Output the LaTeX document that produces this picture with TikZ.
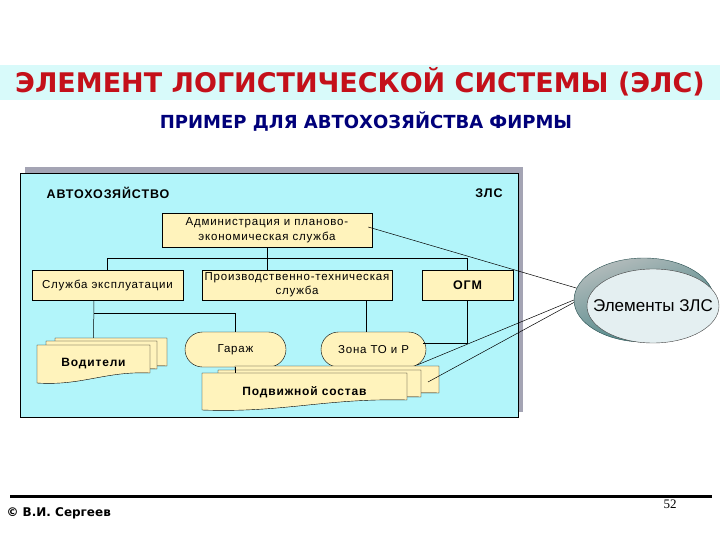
\documentclass[tikz,border=0pt]{standalone}
\usepackage{fontspec}
\setmainfont{Liberation Sans}
\newfontfamily\headfont{DejaVu Sans}
\newfontfamily\boxfont[LetterSpace=7]{Liberation Sans}
\newfontfamily\pagefont{Liberation Serif}
\usetikzlibrary{shapes.misc, shapes.geometric}
\definecolor{bandcyan}{HTML}{D8FAFA}
\definecolor{zlscyan}{HTML}{B2F5FA}
\definecolor{frame}{HTML}{A4A4B4}
\definecolor{boxyellow}{HTML}{FFF3BC}
\definecolor{titlered}{HTML}{C4101A}
\definecolor{subblue}{HTML}{00007A}
\definecolor{ellfront}{HTML}{E4EFF1}
\definecolor{elltop}{HTML}{B4BCBC}
\definecolor{ellmid}{HTML}{9ED8DC}
\definecolor{ellback}{HTML}{3E7E80}
% document shape with wavy bottom: x, y (top left), width, height
\newcommand{\docpath}[4]{(#1,#2) -- ({#1+#3},#2) -- ({#1+#3},{#2+#4-10})
  .. controls ({#1+0.6*#3},{#2+#4-12}) and ({#1+0.4*#3},{#2+#4+3}) .. (#1,{#2+#4}) -- cycle}
\newcommand{\bxsize}{\fontsize{11.5}{15}\selectfont}

\begin{document}
\begin{tikzpicture}[x=1pt,y=-1pt,
	box/.style={draw,fill=boxyellow,font=\boxfont\bxsize,inner sep=1pt,align=center},
	pill/.style={box,rounded rectangle,minimum width=103pt,minimum height=35pt},
	doc/.style={draw,fill=boxyellow},
	link/.style={draw,line width=0.5pt}]
	\useasboundingbox (0,0) rectangle (720,540);
	% titles
	\fill[bandcyan] (0,65) rectangle (720,100);
	\node[font=\headfont\bfseries\fontsize{27}{30}\selectfont,text=titlered] (title) at (360,82) {ЭЛЕМЕНТ ЛОГИСТИЧЕСКОЙ СИСТЕМЫ (ЭЛС)};
	\node[font=\headfont\bfseries\fontsize{18}{20}\selectfont,text=subblue] (subtitle) at (366,122) {ПРИМЕР ДЛЯ АВТОХОЗЯЙСТВА ФИРМЫ};
	% ZLS frame
	\fill[frame] (25,167) rectangle (523,412);
	\filldraw[fill=zlscyan,line width=0.6pt] (20,173) rectangle (518,417);
	\node[font=\boxfont\bfseries\fontsize{12.5}{14}\selectfont] (auto) at (108,193) {АВТОХОЗЯЙСТВО};
	\node[font=\boxfont\bfseries\fontsize{12.5}{14}\selectfont] (zls) at (489,193) {ЗЛС};
	% boxes
	\node[box,minimum width=210pt,minimum height=34pt] (admin) at (267,230) {Администрация и планово-\\экономическая служба};
	\node[box,minimum width=151pt,minimum height=30pt] (expl) at (107.5,285) {Служба эксплуатации};
	\node[box,minimum width=190pt,minimum height=30pt,font=\boxfont\fontsize{11.5}{14}\selectfont] (prod) at (297,285) {Производственно-техническая\\служба};
	\node[box,minimum width=91pt,minimum height=30pt,font=\boxfont\fontsize{12.5}{14}\selectfont\bfseries] (ogm) at (467.5,285) {ОГМ};
	\node[pill] (gar) at (235.5,349.5) {Гараж};
	\node[pill,minimum width=107pt] (zona) at (373.5,349.5) {Зона ТО и Р};
	% stacked documents
	\filldraw[doc] \docpath{55}{338}{112}{38};
	\filldraw[doc] \docpath{46}{341}{111}{38};
	\filldraw[doc] \docpath{37}{345}{113}{38};
	\node[font=\boxfont\fontsize{12}{14}\selectfont\bfseries,minimum width=113pt,minimum height=38pt] (vod) at (93.5,364) {Водители};
	\filldraw[doc] \docpath{235}{366}{204}{37};
	\filldraw[doc] \docpath{218}{370}{203}{37};
	\filldraw[doc] \docpath{202}{373}{205}{37};
	\node[font=\boxfont\fontsize{12}{14}\selectfont\bfseries,minimum width=205pt,minimum height=37pt] (podv) at (304.5,392) {Подвижной состав};
	% tree
	\draw[link] (admin.south) -- (admin.south |- prod.north);
	\draw[link] (expl.north) -- ++(0,-12) -| (ogm.north);
	\coordinate (vj) at (94,313);
	\draw[link] (expl.south -| vj) -- ([yshift=7pt]vod.north);
	\draw[link] (vj) -| (gar.north);
	\draw[link] ([xshift=-7pt]zona.north) -- ([xshift=-7pt]zona.north |- prod.south);
	\draw[link] (ogm.south) |- ([xshift=-3pt,yshift=6pt]zona.east);
	\draw[link] (gar.south) -- (gar.south |- podv.north);
	% elements
	\node[ellipse,minimum width=140pt,minimum height=84pt,draw=ellback!60!black,line width=0.4pt,
		top color=elltop,middle color=ellmid,bottom color=ellback,shading angle=20] (elemback) at (644,300) {};
	\node[ellipse,minimum width=132pt,minimum height=74pt,draw=black!75,fill=ellfront] (elem) at (653,306) {};
	\node[font=\fontsize{17}{20}\selectfont] (elemtext) at (elem.center) {Элементы ЗЛС};
	\coordinate (apt) at ([xshift=-4pt,yshift=3pt]admin.east);
	\coordinate (ppt) at (428,382);
	\draw[link] (apt) -- (elemback.170);
	\draw[link] (zona.-20) -- (elemback.180);
	\draw[link] (ppt) -- (elemback.182);
	% footer
	\draw[line width=3pt] (10,496) -- (712,496);
	\node[font=\pagefont\fontsize{13}{15}\selectfont] (page) at (670,504) {52};
	\node[font=\headfont\bfseries\fontsize{12}{13}\selectfont,anchor=west] (author) at (3,513) {© В.И. Сергеев};
\end{tikzpicture}
\end{document}
